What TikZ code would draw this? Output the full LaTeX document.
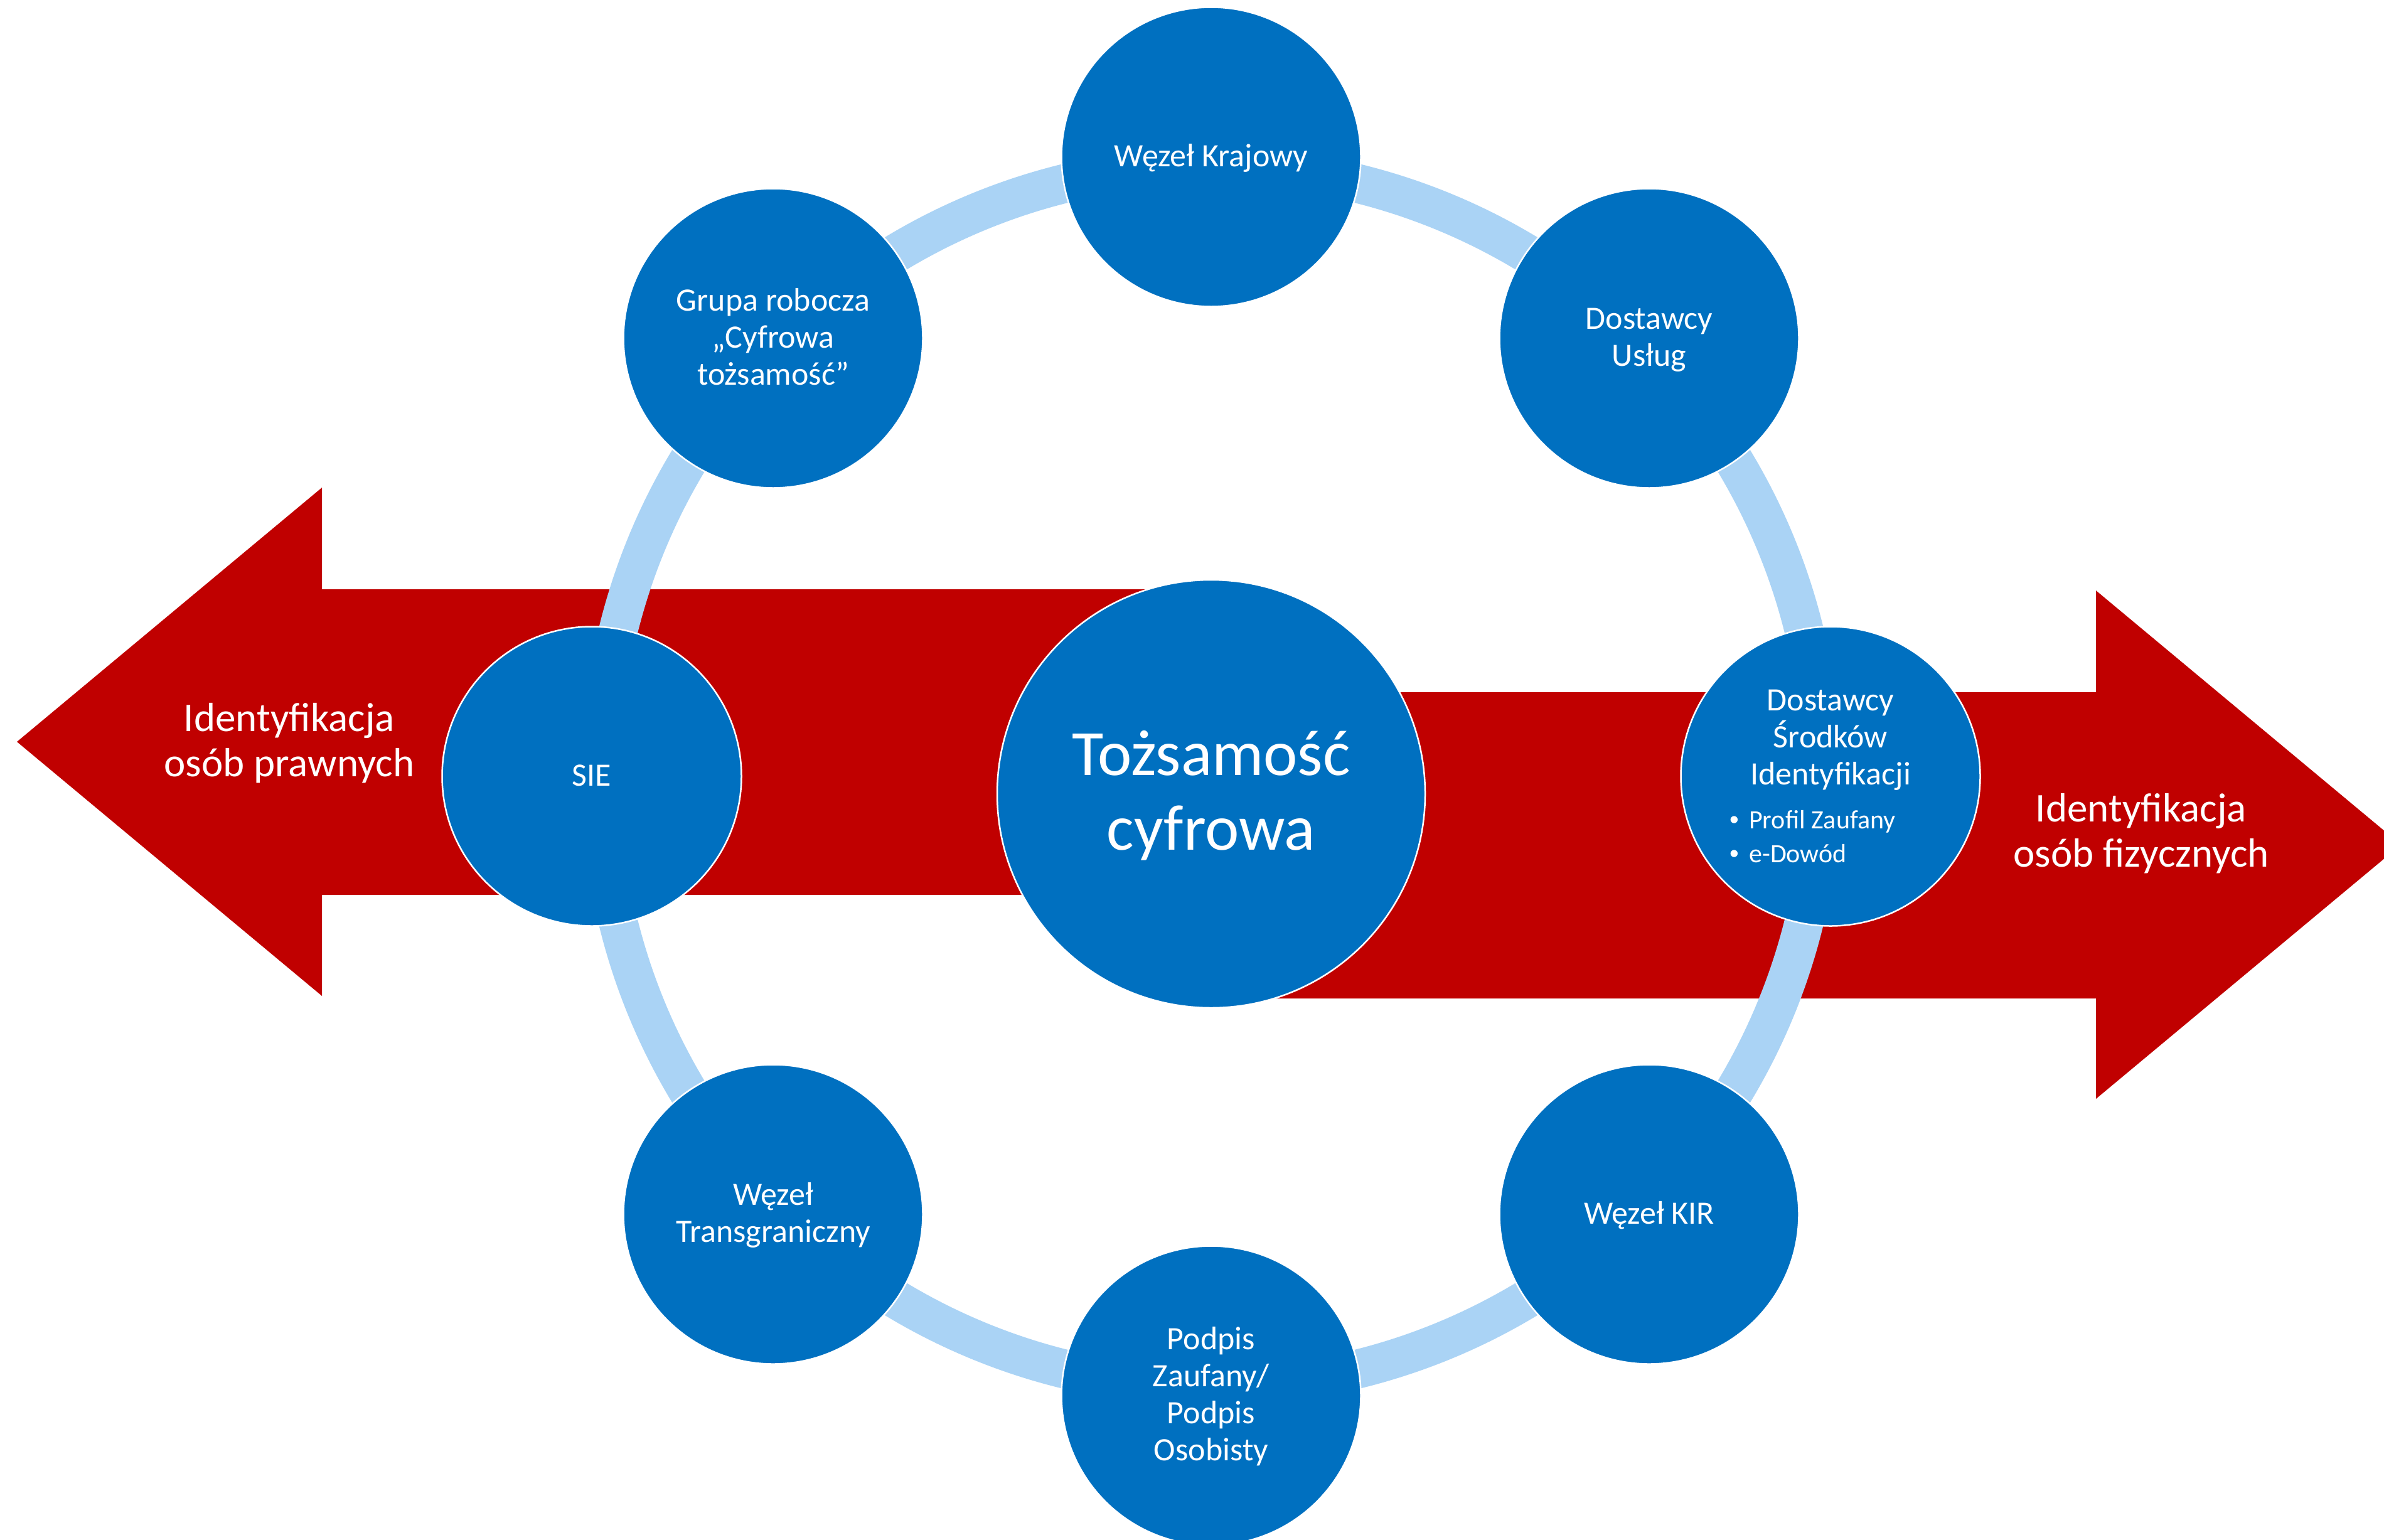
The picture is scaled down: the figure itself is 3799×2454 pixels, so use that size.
\documentclass[tikz,border=0pt]{standalone}
\usepackage{fontspec}
\setmainfont{Carlito}
\newfontfamily\bulletfont{Liberation Sans}
\definecolor{cblue}{HTML}{0070C0}
\definecolor{cring}{HTML}{AAD3F5}
\definecolor{cred}{HTML}{C00000}
\newcommand\txtstack[1]{\vtop{\lineskiplimit=-1000pt\halign{\hfil##\hfil\cr#1\crcr}}}
\tikzset{
  bub/.style={circle, fill=cblue, draw=white, line width=2.5pt, minimum size=477pt, inner sep=0pt},
  bigbub/.style={circle, fill=cblue, draw=white, line width=2.5pt, minimum size=682pt, inner sep=0pt},
  ringline/.style={draw=cring, line width=62pt, line cap=butt},
  redarrow/.style={fill=cred, draw=none},
  txt/.style={text=white, inner sep=0pt, anchor=base},
  fsmall/.style={font=\fontsize{52}{58.8}\selectfont},
  fbullet/.style={font=\fontsize{42}{53.4}\selectfont},
  fbul/.style={font=\bulletfont\fontsize{42}{53.4}\selectfont},
  farrow/.style={font=\fontsize{65}{72}\selectfont},
  fbig/.style={font=\fontsize{103}{119}\selectfont}
}
\begin{document}
\begin{tikzpicture}[x=1pt,y=-1pt]
\useasboundingbox (0,0) rectangle (3799,2454);
\clip (0,0) rectangle (3799,2454);
\fill[white] (0,0) rectangle (3799,2454);

% red arrows
\fill[redarrow] (1930,939) -- (513,939) -- (513,777) -- (27,1182) -- (513,1587) -- (513,1426) -- (1930,1426) -- cycle;
\fill[redarrow] (1930,1103) -- (3340,1103) -- (3340,941) -- (3826,1346) -- (3340,1751) -- (3340,1591) -- (1930,1591) -- cycle;

% ring centre
\coordinate (rc) at (1930,1237);

% ring arcs between neighbouring circles
\foreach \a in {0,45,...,315}
  \draw[ringline] (rc) ++(\a:973pt) arc[start angle=\a, delta angle=45, radius=973pt];

\node[bub] (kraj) at (1930,250) {};
\node[bub] (grupa) at (1232,539) {};
\node[bub] (uslug) at (2628,539) {};
\node[bub] (sie) at (943,1237) {};
\node[bub] (dsi) at (2917,1237) {};
\node[bub] (trans) at (1232,1935) {};
\node[bub] (kir) at (2628,1935) {};
\node[bub] (podpis) at (1930,2224) {};
\node[bigbub] (tc) at (1930,1265) {};

% labels
\node[txt, fsmall] (tkraj) at (1930,265) {Węzeł Krajowy};
\node[txt, fsmall] (tgrupa) at (1232,495.7) {\txtstack{Grupa robocza\cr „Cyfrowa\cr tożsamość”}};
\node[txt, fsmall] (tuslug) at (2628,524.6) {\txtstack{Dostawcy\cr Usług}};
\node[txt, fsmall] (tsie) at (943,1252) {SIE};
\node[txt, fsmall] (tdsi) at (2917,1132.6) {\txtstack{Dostawcy\cr Środków\cr Identyfikacji}};
\node[txt, fbul] (b1) at (2764,1320.6) {•};
\node[txt, fbul] (b2) at (2764,1374) {•};
\node[txt, fbullet, anchor=base west] (pz) at (2787,1320.6) {Profil Zaufany};
\node[txt, fbullet, anchor=base west] (ed) at (2787,1374) {e-Dowód};
\node[txt, fsmall] (ttrans) at (1232,1920.6) {\txtstack{Węzeł\cr Transgraniczny}};
\node[txt, fsmall] (tkir) at (2628,1950) {Węzeł KIR};
\node[txt, fsmall] (tpodpis) at (1930,2150.8) {\txtstack{Podpis\cr Zaufany/\cr Podpis\cr Osobisty}};
\node[txt, fbig] (ttc) at (1930,1235) {\txtstack{Tożsamość\cr cyfrowa}};
\node[txt, farrow] (tleft) at (461,1165) {\txtstack{Identyfikacja\cr osób prawnych}};
\node[txt, farrow] (tright) at (3412,1309) {\txtstack{Identyfikacja\cr osób fizycznych}};
\end{tikzpicture}
\end{document}
